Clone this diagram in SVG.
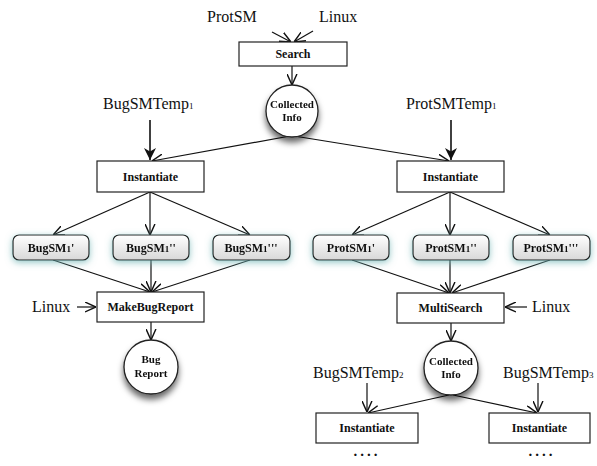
<svg xmlns="http://www.w3.org/2000/svg" width="597" height="466" viewBox="0 0 597 466">
<style>
.lbl{font-family:"Liberation Serif","Times New Roman",serif;font-size:16px;fill:#111}
.nl{font-family:"Liberation Serif","Times New Roman",serif;font-size:12px;font-weight:bold;fill:#111;text-anchor:middle}
.cl{font-family:"Liberation Serif","Times New Roman",serif;font-size:11px;font-weight:bold;fill:#111;text-anchor:middle}
.dots{font-family:"Liberation Serif","Times New Roman",serif;font-size:15px;font-weight:bold;fill:#111;text-anchor:middle;letter-spacing:3px}
.box{fill:#fff;stroke:#222;stroke-width:1.2}
.sm{fill:url(#g);stroke:#222;stroke-width:1.2}
.circ{fill:#fff;stroke:#222;stroke-width:1.3}
.c line{stroke:#111;stroke-width:1.2;marker-end:url(#a)}
.c line.b{stroke-width:1.6;marker-end:url(#fb)}
.sub{font-size:9px}
</style>
<defs>
<linearGradient id="g" x1="0" y1="0" x2="0" y2="1">
<stop offset="0" stop-color="#ffffff"/>
<stop offset="1" stop-color="#d8d8d8"/>
</linearGradient>
<filter id="glow" x="-30%" y="-60%" width="160%" height="220%">
<feGaussianBlur in="SourceAlpha" stdDeviation="3.5"/>
<feOffset dy="2" result="b"/>
<feFlood flood-color="#6fb4b4" flood-opacity="0.75"/>
<feComposite in2="b" operator="in"/>
<feMerge><feMergeNode/><feMergeNode in="SourceGraphic"/></feMerge>
</filter>
<filter id="sh" x="-50%" y="-50%" width="200%" height="220%">
<feGaussianBlur in="SourceAlpha" stdDeviation="3"/>
<feOffset dy="5" result="b"/>
<feFlood flood-color="#000" flood-opacity="0.6"/>
<feComposite in2="b" operator="in"/>
<feMerge><feMergeNode/><feMergeNode in="SourceGraphic"/></feMerge>
</filter>
<marker id="a" viewBox="0 0 10 10" refX="10" refY="5" markerWidth="11" markerHeight="11" markerUnits="userSpaceOnUse" orient="auto">
<path d="M0,0.5 L10,5 L0,9.5" fill="none" stroke="#111" stroke-width="1.3"/>
</marker>
<marker id="fb" viewBox="0 0 10 10" refX="10" refY="5" markerWidth="12" markerHeight="12" markerUnits="userSpaceOnUse" orient="auto">
<path d="M0,0 L10,5 L0,10 L3,5 z" fill="#111"/>
</marker>
</defs>

<g class="c" id="connectors">
<line x1="272" y1="32" x2="291" y2="42"/>
<line x1="313" y1="31" x2="294" y2="42"/>
<line x1="292" y1="66" x2="292" y2="85"/>
<line class="b" x1="150" y1="120" x2="150" y2="160"/>
<line class="b" x1="451" y1="120" x2="451" y2="160"/>
<line x1="290" y1="136" x2="152" y2="161"/>
<line x1="294" y1="136" x2="449" y2="161"/>
<line x1="150" y1="192" x2="53" y2="235"/>
<line x1="150" y1="192" x2="150" y2="235"/>
<line x1="150" y1="192" x2="250" y2="235"/>
<line x1="450" y1="192" x2="352" y2="235"/>
<line x1="450" y1="192" x2="450" y2="235"/>
<line x1="450" y1="192" x2="550" y2="235"/>
<line x1="53" y1="260" x2="150" y2="292"/>
<line x1="151" y1="260" x2="151" y2="292"/>
<line x1="250" y1="260" x2="152" y2="292"/>
<line x1="352" y1="260" x2="449" y2="293"/>
<line x1="450" y1="260" x2="450" y2="293"/>
<line x1="550" y1="260" x2="452" y2="293"/>
<line x1="77" y1="307" x2="96" y2="307"/>
<line x1="151" y1="322" x2="151" y2="340"/>
<line x1="527" y1="307" x2="505" y2="307"/>
<line x1="451" y1="323" x2="451" y2="341"/>
<line x1="367" y1="383" x2="367" y2="412"/>
<line x1="538" y1="383" x2="538" y2="412"/>
<line x1="449" y1="395" x2="368" y2="413"/>
<line x1="453" y1="395" x2="537" y2="413"/>
</g>

<g id="labels">
<text class="lbl" x="207" y="22">ProtSM</text>
<text class="lbl" x="319" y="22">Linux</text>
<text class="lbl" x="103" y="109">BugSMTemp<tspan class="sub">1</tspan></text>
<text class="lbl" x="406" y="109">ProtSMTemp<tspan class="sub">1</tspan></text>
<text class="lbl" x="32" y="312">Linux</text>
<text class="lbl" x="532" y="312">Linux</text>
<text class="lbl" x="313" y="378">BugSMTemp<tspan class="sub">2</tspan></text>
<text class="lbl" x="503" y="378">BugSMTemp<tspan class="sub">3</tspan></text>
</g>

<g id="search"><rect class="box" x="239" y="42" width="108" height="24"/><text class="nl" x="293" y="58">Search</text></g>
<g id="collected1" filter="url(#sh)"><circle class="circ" cx="292" cy="111" r="26"/><text class="cl" x="292" y="108">Collected</text><text class="cl" x="292" y="121">Info</text></g>

<g id="inst1"><rect class="box" x="97" y="161" width="107" height="31"/><text class="nl" x="150.5" y="181">Instantiate</text></g>
<g id="inst2"><rect class="box" x="397" y="161" width="107" height="31"/><text class="nl" x="450.5" y="181">Instantiate</text></g>

<g id="bugsm1a" filter="url(#glow)"><rect class="sm" x="13" y="235" width="76" height="25" rx="6"/><text class="nl" x="51" y="252">BugSM<tspan class="sub">1</tspan>'</text></g>
<g id="bugsm1b" filter="url(#glow)"><rect class="sm" x="113" y="235" width="76" height="25" rx="6"/><text class="nl" x="151" y="252">BugSM<tspan class="sub">1</tspan>''</text></g>
<g id="bugsm1c" filter="url(#glow)"><rect class="sm" x="213" y="235" width="77" height="25" rx="6"/><text class="nl" x="251" y="252">BugSM<tspan class="sub">1</tspan>'''</text></g>

<g id="protsm1a" filter="url(#glow)"><rect class="sm" x="313" y="235" width="76" height="25" rx="6"/><text class="nl" x="351" y="252">ProtSM<tspan class="sub">1</tspan>'</text></g>
<g id="protsm1b" filter="url(#glow)"><rect class="sm" x="413" y="235" width="76" height="25" rx="6"/><text class="nl" x="451" y="252">ProtSM<tspan class="sub">1</tspan>''</text></g>
<g id="protsm1c" filter="url(#glow)"><rect class="sm" x="513" y="235" width="77" height="25" rx="6"/><text class="nl" x="551" y="252">ProtSM<tspan class="sub">1</tspan>'''</text></g>

<g id="makebug"><rect class="box" x="97" y="292" width="107" height="30"/><text class="nl" x="150.5" y="311">MakeBugReport</text></g>
<g id="bugreport" filter="url(#sh)"><circle class="circ" cx="151" cy="367" r="27"/><text class="cl" x="151" y="363">Bug</text><text class="cl" x="151" y="377">Report</text></g>

<g id="multisearch"><rect class="box" x="397" y="293" width="107" height="30"/><text class="nl" x="450.5" y="312">MultiSearch</text></g>
<g id="collected2" filter="url(#sh)"><circle class="circ" cx="451" cy="368" r="27"/><text class="cl" x="451" y="365">Collected</text><text class="cl" x="451" y="378">Info</text></g>

<g id="inst3"><rect class="box" x="316" y="413" width="102" height="30"/><text class="nl" x="367" y="432">Instantiate</text></g>
<g id="inst4"><rect class="box" x="489" y="413" width="101" height="30"/><text class="nl" x="539.5" y="432">Instantiate</text></g>
<text class="dots" x="367" y="456">....</text>
<text class="dots" x="542" y="456">....</text>
</svg>
